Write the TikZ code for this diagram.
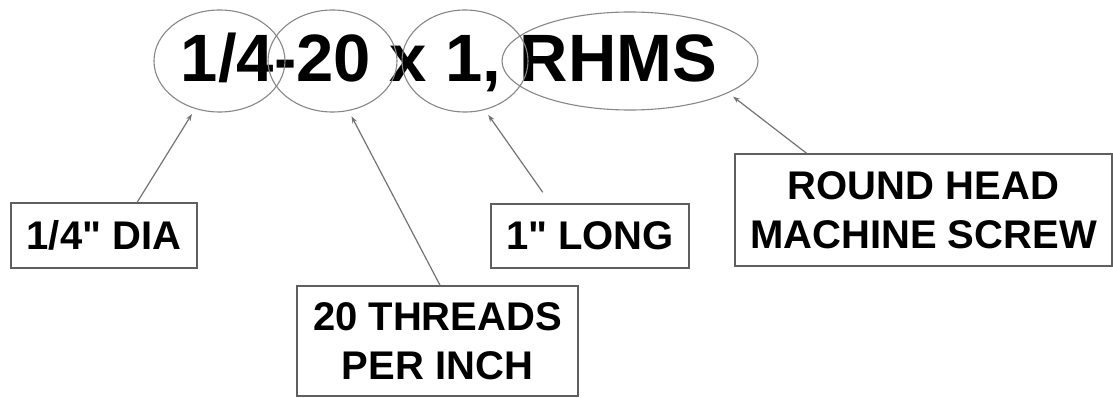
\documentclass[tikz,border=0pt]{standalone}
\usepackage{fontspec}
\setmainfont[Ligatures=TeXOff]{Liberation Sans}
\usetikzlibrary{shapes.geometric,arrows.meta,calc}
\definecolor{ovalgray}{RGB}{135,135,135}
\definecolor{boxgray}{RGB}{95,95,95}
\definecolor{arrowgray}{RGB}{115,115,115}
\begin{document}
\begin{tikzpicture}[x=1pt,y=-1pt,
  oval/.style={draw=ovalgray,line width=1.1pt,ellipse,inner sep=0pt},
  tagbox/.style={draw=boxgray,line width=1.4pt,inner sep=0pt,align=center,font=\fontsize{40}{49}\selectfont\bfseries},
  pointer/.style={draw=arrowgray,line width=1.2pt,-{Stealth[length=7pt,width=5pt]},shorten >=6pt}]
\fill[white] (0,0) rectangle (1113,398);
\useasboundingbox (0,0) rectangle (1113,398);
% title
\node[font=\fontsize{67}{70}\selectfont\bfseries,anchor=base,inner sep=0pt] (title) at (449,82) {1/4-20 x 1, RHMS};
% ovals
\node[oval,minimum width=131pt,minimum height=102pt] (e1) at (219.5,61) {};
\node[oval,minimum width=129pt,minimum height=102pt] (e2) at (332.5,61) {};
\node[oval,minimum width=126pt,minimum height=102pt] (e3) at (465,61) {};
\node[oval,minimum width=256pt,minimum height=98pt] (e4) at (630,61) {};
% label boxes
\node[tagbox,minimum width=186pt,minimum height=65pt] (b1) at (104,235.5) {1/4" DIA};
\node[tagbox,minimum width=281pt,minimum height=110pt] (b2) at (437.5,341) {20 THREADS\\PER INCH};
\node[tagbox,minimum width=198pt,minimum height=64pt] (b3) at (590,236) {1" LONG};
\node[tagbox,minimum width=377pt,minimum height=112pt] (b4) at (923.5,210) {ROUND HEAD\\MACHINE SCREW};
% pointers
\coordinate (s3) at ($(b3.north west)!0.263!(b3.north east)+(0,-11)$);
\draw[pointer] ($(b1.north west)!0.677!(b1.north east)$) -- (e1.243.9);
\draw[pointer] ($(b2.north west)!0.509!(b2.north east)$) -- (e2.288);
\draw[pointer] (s3) -- (e3.292);
\draw[pointer] ($(b4.north west)!0.191!(b4.north east)$) -- (e4.342.8);
\end{tikzpicture}
\end{document}
